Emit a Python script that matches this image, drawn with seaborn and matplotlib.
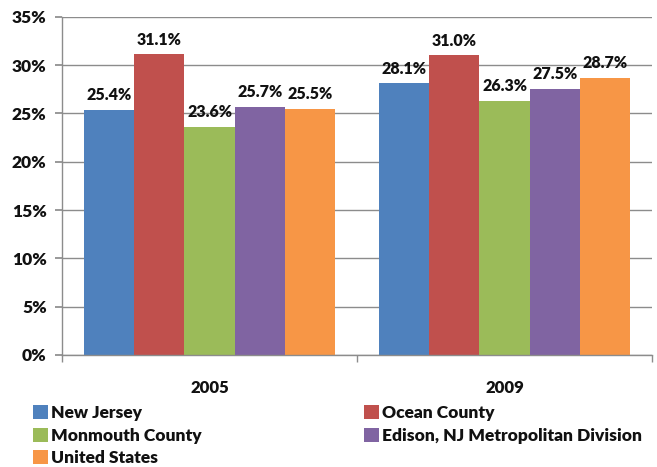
import matplotlib
matplotlib.use("Agg")
import matplotlib.pyplot as plt
import seaborn as sns
import pandas as pd
from matplotlib.patches import Patch
from matplotlib.ticker import FuncFormatter

years = ["2005", "2009"]
series = ["New Jersey", "Ocean County", "Monmouth County",
          "Edison, NJ Metropolitan Division", "United States"]
new_jersey = [25.4, 28.1]
ocean_county = [31.1, 31.0]
monmouth_county = [23.6, 26.3]
edison = [25.7, 27.5]
united_states = [25.5, 28.7]
colors = ["#4F81BD", "#C0504D", "#9BBB59", "#8064A2", "#F79646"]

values = [new_jersey, ocean_county, monmouth_county, edison, united_states]
rows = []
for s, vals in zip(series, values):
    for y, v in zip(years, vals):
        rows.append({"Year": y, "Series": s, "Value": v})
df = pd.DataFrame(rows)

sns.set_theme(style="white")
fam = ["Lato", "DejaVu Sans"]
plt.rcParams["font.family"] = fam
W = "heavy"

fig = plt.figure(figsize=(6.57, 4.67), dpi=100)
ax = fig.add_axes([0.0944, 0.24, 0.898, 0.724])

sns.barplot(data=df, x="Year", y="Value", hue="Series", hue_order=series,
            order=years, palette=colors, width=0.85, saturation=1,
            ax=ax, legend=False, edgecolor="none", linewidth=0)

for cont in ax.containers:
    ax.bar_label(cont, labels=[f"{v:.1f}%" for v in cont.datavalues],
                 padding=5, fontsize=11.5, fontweight=W, color="#111111")

ax.set_ylim(0, 35)
ax.set_yticks(range(0, 36, 5))
ax.yaxis.set_major_formatter(FuncFormatter(lambda v, p: f"{int(v)}%"))
ax.set_xlim(-0.5, 1.5)
ax.set_xlabel("")
ax.set_ylabel("")
ax.grid(axis="y", color="#8c8c8c", linewidth=1)
ax.set_axisbelow(True)
for side in ["top", "right"]:
    ax.spines[side].set_visible(False)
for side in ["left", "bottom"]:
    ax.spines[side].set_color("#8c8c8c")
    ax.spines[side].set_linewidth(1)

ax.tick_params(axis="y", labelsize=12.5, length=5, color="#8c8c8c", left=True,
               pad=6, labelcolor="#111111")
for t in ax.get_yticklabels():
    t.set_fontweight(W)
ax.tick_params(axis="x", bottom=False, labelsize=12, pad=12, labelcolor="#111111")
for t in ax.get_xticklabels():
    t.set_fontweight(W)
ax.set_xticks([-0.5, 0.5, 1.5], minor=True)
ax.tick_params(axis="x", which="minor", bottom=True, length=5, color="#8c8c8c")

handles = [Patch(facecolor=c, edgecolor="none") for c in colors]
order = [0, 2, 4, 1, 3]
leg = fig.legend([handles[i] for i in order], [series[i] for i in order],
                 ncol=2, loc="upper left", bbox_to_anchor=(0.05, 0.132),
                 frameon=False, handlelength=0.85, handleheight=0.85,
                 handletextpad=0.2, columnspacing=9.35, labelspacing=0.36,
                 prop={"size": 12.5, "weight": W, "family": fam},
                 borderaxespad=0, borderpad=0)
for t in leg.get_texts():
    t.set_color("#111111")

fig.savefig("out.png", dpi=100)
